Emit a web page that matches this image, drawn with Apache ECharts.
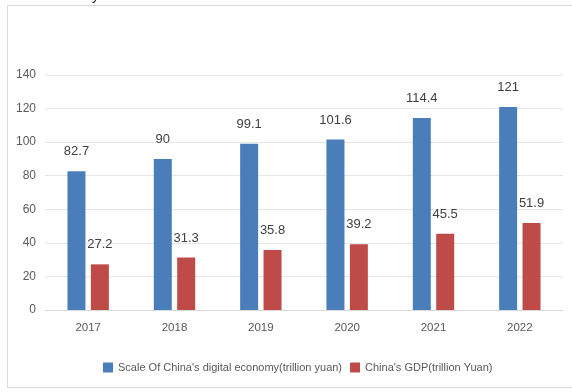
<!DOCTYPE html>
<html><head><meta charset="utf-8">
<script src="https://cdn.jsdelivr.net/npm/echarts@6/dist/echarts.min.js"></script>
<style>html,body{margin:0;padding:0;background:#fff;}#c{width:572px;height:392px;}</style>
</head><body><div id="c"></div>
<script>
const categories = ['2017','2018','2019','2020','2021','2022'];
const digitalEconomy = [82.7, 90, 99.1, 101.6, 114.4, 121];
const gdp = [27.2, 31.3, 35.8, 39.2, 45.5, 51.9];
const seriesNames = ["Scale Of China's digital economy(trillion yuan)", "China's GDP(trillion Yuan)"];
const yTicks = {min: 0, max: 140, interval: 20};

const FONT = '"Liberation Sans",sans-serif';
const chart = echarts.init(document.getElementById('c'));
const lbl = {show: true, position: 'top', distance: 13, fontSize: 13, color: '#404040', fontFamily: FONT};
chart.setOption({
  animation: false,
  backgroundColor: '#fff',
  graphic: [
    {type: 'rect', shape: {x: 7.5, y: 5.5, width: 600, height: 382}, style: {fill: 'none', stroke: '#d9d9d9', lineWidth: 1}},
    {type: 'text', left: 92, top: -11, style: {text: 'y', fontSize: 14, fill: '#222', fontFamily: FONT}}
  ],
  grid: {left: 45, right: 9, top: 75, bottom: 82},
  legend: {
    data: seriesNames, bottom: 14, left: 98, itemWidth: 10, itemHeight: 10, itemGap: 8,
    icon: 'rect', textStyle: {fontSize: 11, color: '#595959', fontFamily: FONT}
  },
  xAxis: {
    type: 'category', data: categories,
    axisLine: {lineStyle: {color: '#d9d9d9'}}, axisTick: {show: false},
    axisLabel: {fontSize: 11.5, color: '#595959', margin: 12, fontFamily: FONT}
  },
  yAxis: {
    type: 'value', min: yTicks.min, max: yTicks.max, interval: yTicks.interval,
    axisLine: {show: false}, axisTick: {show: false},
    splitLine: {lineStyle: {color: '#e6e6e6'}},
    axisLabel: {fontSize: 12, color: '#595959', margin: 9, fontFamily: FONT}
  },
  series: [
    {name: seriesNames[0], type: 'bar', data: digitalEconomy, barWidth: 18, barGap: '30%', itemStyle: {color: '#4a7ebb'}, label: lbl},
    {name: seriesNames[1], type: 'bar', data: gdp, barWidth: 18, barGap: '30%', itemStyle: {color: '#be4b48'}, label: lbl}
  ]
});
</script></body></html>
